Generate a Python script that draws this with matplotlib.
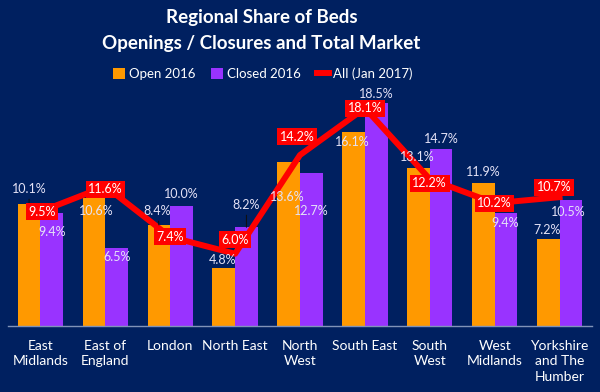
import matplotlib
matplotlib.use('Agg')
import matplotlib.pyplot as plt
import numpy as np

regions = ['East\nMidlands', 'East of\nEngland', 'London', 'North East', 'North\nWest',
           'South East', 'South\nWest', 'West\nMidlands', 'Yorkshire\nand The\nHumber']
open_2016 = [10.1, 10.6, 8.4, 4.8, 13.6, 16.1, 13.1, 11.9, 7.2]
closed_2016 = [9.4, 6.5, 10.0, 8.2, 12.7, 18.5, 14.7, 9.4, 10.5]
all_jan2017 = [9.5, 11.6, 7.4, 6.0, 14.2, 18.1, 12.2, 10.2, 10.7]

# label offsets in points (dx, dy)
open_off = [(0, 11), (2, -9), (-1, 10), (-1, 6), (-1, -25), (-1, -7), (-1, 8), (0, 8), (-1, 7)]
closed_off = [(0, -14), (0, -7), (0, 8), (0, 16), (0, -27), (0, 7), (0, 7), (-1, -7), (-2, -9)]
all_off = [(1, 0), (0, -2), (0, 0), (0, 10), (-2, 13), (0, 0), (0, -3), (0, 0), (-4, 7)]
open_leader = [True, False, True, False, False, False, False, False, False]
closed_leader = [False, False, False, True, False, False, False, False, False]

bg = '#002060'
orange = '#FF9900'
purple = '#9933FF'
red = '#FF0000'
txt = '#E4E2F6'

plt.rcParams['font.family'] = ['Lato', 'DejaVu Sans']

fig = plt.figure(figsize=(6, 3.92), dpi=100, facecolor=bg)
ax = fig.add_axes([8 / 600, 66 / 392, 584 / 600, 236 / 392])
ax.set_facecolor(bg)

x = np.arange(len(regions))
w = 0.35
ax.bar(x - w / 2, open_2016, w, color=orange, label='Open 2016', zorder=2)
ax.bar(x + w / 2, closed_2016, w, color=purple, label='Closed 2016', zorder=2)
ax.plot(x, all_jan2017, color=red, lw=4.3, label='All (Jan 2017)', zorder=3)

lead = dict(arrowstyle='-', color='#101010', lw=0.8, shrinkA=1, shrinkB=0)
for i in range(len(x)):
    ax.annotate(f'{open_2016[i]:.1f}%', (x[i] - w / 2, open_2016[i]),
                xytext=open_off[i], textcoords='offset points',
                ha='center', va='center', color=txt, fontsize=9, zorder=4,
                arrowprops=lead if open_leader[i] else None)
    ax.annotate(f'{closed_2016[i]:.1f}%', (x[i] + w / 2, closed_2016[i]),
                xytext=closed_off[i], textcoords='offset points',
                ha='center', va='center', color=txt, fontsize=9, zorder=4,
                arrowprops=lead if closed_leader[i] else None)
    ax.annotate(f'{all_jan2017[i]:.1f}%', (x[i], all_jan2017[i]),
                xytext=all_off[i], textcoords='offset points',
                ha='center', va='center', color='white', fontsize=9, zorder=5,
                bbox=dict(boxstyle='square,pad=0.2', fc=red, ec='none'))

ax.set_xlim(-0.5, len(regions) - 0.5)
ax.set_ylim(0, 19.6)
ax.set_yticks([])
ax.set_xticks(x)
ax.set_xticklabels(regions, color='white', fontsize=10, linespacing=1.35)
ax.tick_params(axis='x', length=0, pad=10)
for s in ['top', 'right', 'left']:
    ax.spines[s].set_visible(False)
ax.spines['bottom'].set_color('#8093B8')
ax.spines['bottom'].set_linewidth(1)

fig.text(0.436, 0.955, 'Regional Share of Beds', ha='center', va='center',
         color='white', fontsize=13.5, fontweight='bold')
fig.text(0.436, 0.888, 'Openings / Closures and Total Market', ha='center', va='center',
         color='white', fontsize=13.5, fontweight='bold')

handles, labels = ax.get_legend_handles_labels()
order = [labels.index('Open 2016'), labels.index('Closed 2016'), labels.index('All (Jan 2017)')]
fig.legend([handles[k] for k in order], [labels[k] for k in order],
           loc='center', bbox_to_anchor=(0.438, 0.813), ncol=3, frameon=False,
           fontsize=9.5, labelcolor='white', handlelength=0.9, handleheight=0.9,
           handletextpad=0.3, columnspacing=1.2)

plt.savefig('out.png', dpi=100, facecolor=bg)
plt.close()
